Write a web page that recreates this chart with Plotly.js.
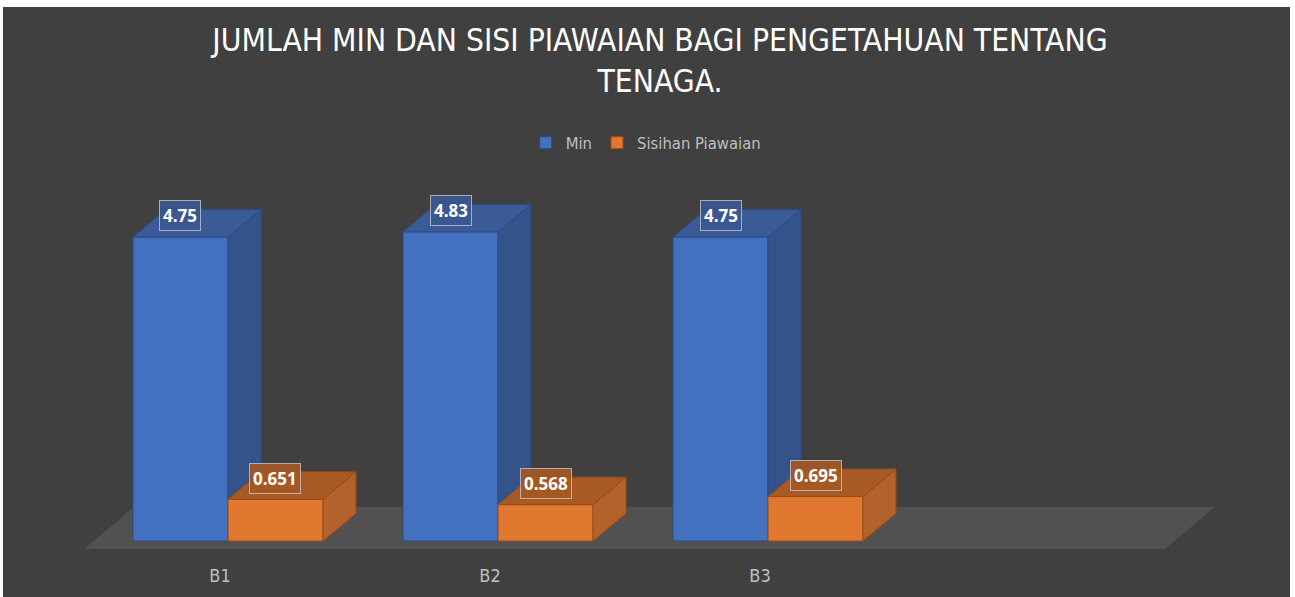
<!DOCTYPE html>
<html>
<head>
<meta charset="utf-8">
<script src="https://cdn.plot.ly/plotly-3.0.1.min.js"></script>
<style>
  html, body { margin: 0; padding: 0; background: #ffffff; }
  #chart { position: absolute; left: 3px; top: 7px; width: 1287px; height: 590px; }
</style>
</head>
<body>
<div id="chart"></div>
<script>
// ---- data ----
var categories = ["B1", "B2", "B3"];
var seriesNames = ["Min", "Sisihan Piawaian"];
var minValues = [4.75, 4.83, 4.75];
var sdValues = [0.651, 0.568, 0.695];
var minLabels = ["4.75", "4.83", "4.75"];
var sdLabels = ["0.651", "0.568", "0.695"];

// ---- styling / geometry (not data) ----
var FONT = "Liberation Sans Narrow, Arial Narrow, DejaVu Sans Condensed, sans-serif";
var blue = { front: "#4471bf", top: "#3a5b98", side: "#34538b", edge: "#2c4c85", box: "rgba(58,88,145,0.9)" };
var orange = { front: "#e0782f", top: "#a85a25", side: "#b4622b", edge: "#9a4c16", box: "rgba(165,88,36,0.9)" };
var xRange = [-0.5333, 3.8222];
var yRange = [-0.125, 6.781];
var bargap = 0.2963;
var barW = (1 - bargap) / 2;   // width of one bar in axis units
var dx = 0.1222, dy = 0.43;    // depth offset of the pseudo-3D faces
var floorEnd = 3.4704, fdx = 0.185, fdy = 0.656;
var labelLift = 0.33;

var idx = categories.map(function (c, i) { return i; });

function faces(vals, seriesIndex, kind, clipVals) {
  var xs = [], ys = [];
  vals.forEach(function (v, i) {
    var x0 = i - barW + seriesIndex * barW;
    var x1 = x0 + barW;
    if (kind === "top") {
      xs.push(x0, x1, x1 + dx, x0 + dx, x0, null);
      ys.push(v, v, v + dy, v + dy, v, null);
    } else {
      var b = clipVals ? clipVals[i] : 0;
      xs.push(x1, x1, x1 + dx, x1 + dx, x1, null);
      ys.push(b, v, v + dy, b + dy, b, null);
    }
  });
  return { x: xs, y: ys };
}

function faceTrace(f, color, edge) {
  return {
    type: "scatter", mode: "lines", x: f.x, y: f.y, fill: "toself",
    fillcolor: color, line: { color: edge, width: 1 },
    hoverinfo: "skip", showlegend: false
  };
}

var traces = [
  {
    type: "bar", name: seriesNames[0], x: idx, y: minValues,
    marker: { color: blue.front, line: { color: blue.edge, width: 1 } },
    hoverinfo: "skip"
  },
  {
    type: "bar", name: seriesNames[1], x: idx, y: sdValues,
    marker: { color: orange.front, line: { color: orange.edge, width: 1 } },
    hoverinfo: "skip"
  },
  faceTrace(faces(minValues, 0, "side", sdValues), blue.side, blue.edge),
  faceTrace(faces(minValues, 0, "top"), blue.top, blue.edge),
  faceTrace(faces(sdValues, 1, "side"), orange.side, orange.edge),
  faceTrace(faces(sdValues, 1, "top"), orange.top, orange.edge)
];

var annotations = [];
minValues.forEach(function (v, i) {
  annotations.push({
    x: i - barW / 2, y: v + labelLift, xref: "x", yref: "y",
    text: "<b>" + minLabels[i] + "</b>", showarrow: false,
    font: { family: "Open Sans, sans-serif", size: 17, color: "#ffffff" },
    bgcolor: blue.box, bordercolor: "rgba(205,205,205,0.75)", borderwidth: 1, borderpad: 3
  });
});
sdValues.forEach(function (v, i) {
  annotations.push({
    x: i + barW / 2, y: v + labelLift, xref: "x", yref: "y",
    text: "<b>" + sdLabels[i] + "</b>", showarrow: false,
    font: { family: "Open Sans, sans-serif", size: 17, color: "#ffffff" },
    bgcolor: orange.box, bordercolor: "rgba(205,205,205,0.75)", borderwidth: 1, borderpad: 3
  });
});

var layout = {
  width: 1287, height: 590,
  paper_bgcolor: "#404040", plot_bgcolor: "rgba(0,0,0,0)",
  margin: { l: 81, r: 30, t: 100, b: 48, pad: 0 },
  barmode: "group", bargap: bargap, bargroupgap: 0,
  title: {
    text: "JUMLAH MIN DAN SISI PIAWAIAN BAGI PENGETAHUAN TENTANG<br>TENAGA.",
    xref: "container", x: 0.5105, xanchor: "center",
    yref: "container", y: 0.925, yanchor: "top",
    font: { family: FONT, size: 31.5, color: "#ffffff" }
  },
  showlegend: true,
  legend: {
    orientation: "h", xref: "paper", x: 0.478, xanchor: "center",
    yref: "paper", y: 0.9186, yanchor: "middle",
    font: { family: FONT, size: 16.5, color: "#bfbfbf" },
    bgcolor: "rgba(0,0,0,0)", itemclick: false
  },
  xaxis: {
    range: xRange, tickmode: "array", tickvals: idx, ticktext: categories,
    showgrid: false, zeroline: false, showline: false, ticks: "",
    tickfont: { family: FONT, size: 18, color: "#bfbfbf" },
    ticklabelshift: -8, ticklabelstandoff: 14, fixedrange: true, automargin: false
  },
  yaxis: {
    range: yRange, showgrid: false, zeroline: false, showline: false,
    showticklabels: false, ticks: "", fixedrange: true, automargin: false
  },
  shapes: [{
    type: "path", xref: "x", yref: "y", layer: "below",
    path: "M " + xRange[0] + "," + yRange[0] + " L " + floorEnd + "," + yRange[0] +
          " L " + (floorEnd + fdx) + "," + (yRange[0] + fdy) +
          " L " + (xRange[0] + fdx) + "," + (yRange[0] + fdy) + " Z",
    fillcolor: "#525050", line: { width: 0 }
  }],
  annotations: annotations
};

Plotly.newPlot("chart", traces, layout, { displayModeBar: false, staticPlot: true });
</script>
</body>
</html>
